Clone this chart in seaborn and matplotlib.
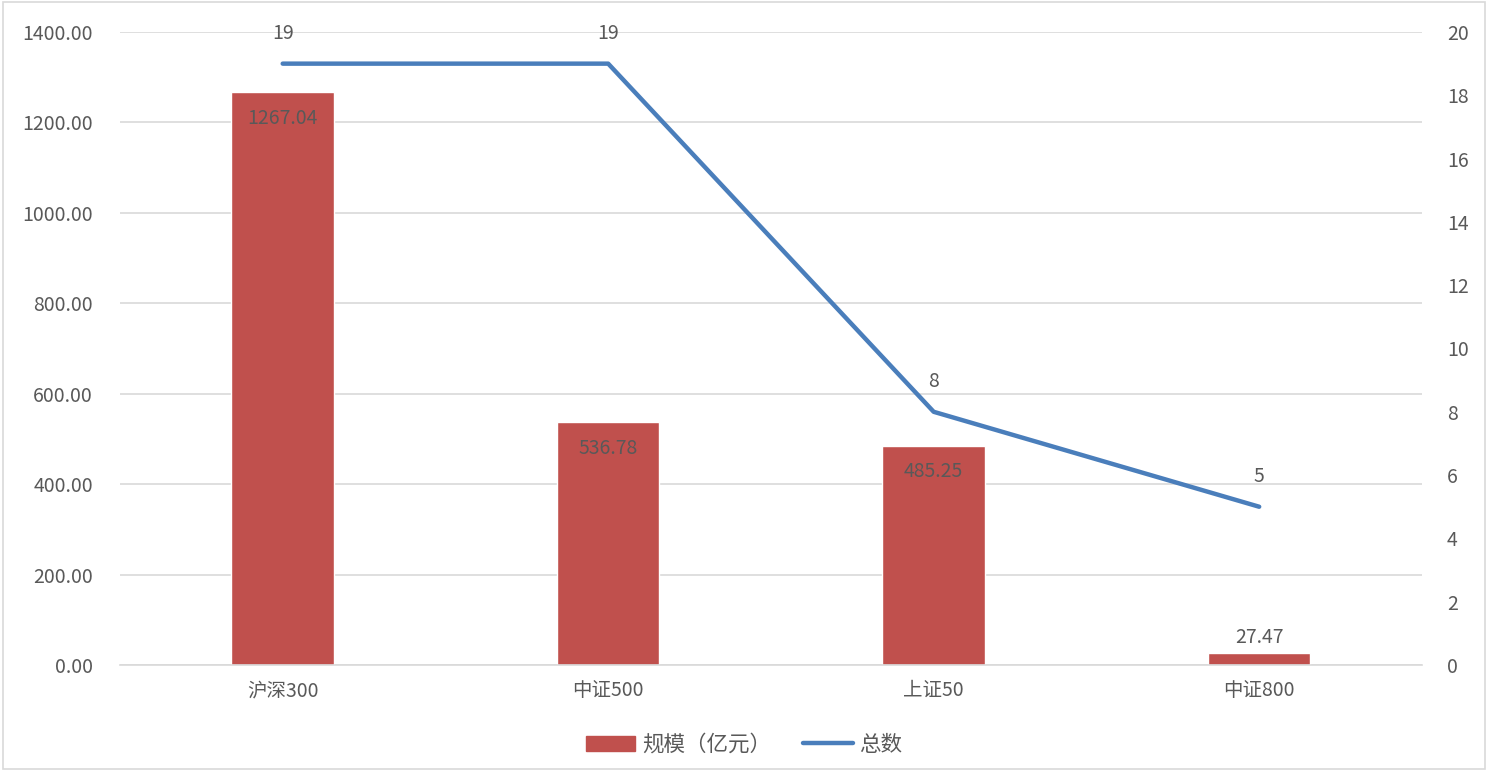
import numpy as np
import pandas as pd
import matplotlib
matplotlib.use("Agg")
import matplotlib.pyplot as plt
import matplotlib.patches as mpatches
import seaborn as sns

categories = ["沪深300", "中证500", "上证50", "中证800"]
scale = [1267.04, 536.78, 485.25, 27.47]
counts = [19, 19, 8, 5]

bar_color = "#c0504d"
line_color = "#4a7ebb"
text_color = "#595959"
grid_color = "#d9d9d9"

sns.set_theme(style="white")
plt.rcParams["font.family"] = ["Noto Sans CJK SC", "DejaVu Sans"]

df = pd.DataFrame({"category": categories, "scale": scale, "count": counts})

fig = plt.figure(figsize=(14.88, 7.71), dpi=100)
ax = fig.add_axes([0.0806, 0.1375, 0.875, 0.821])

sns.barplot(data=df, x="category", y="scale", color=bar_color,
            width=0.315, saturation=1, ax=ax)
ax.set_ylim(0, 1400)
ax.set_yticks(np.arange(0, 1401, 200))
ax.set_yticklabels([f"{v:.2f}" for v in np.arange(0, 1401, 200)])
ax.set_xlim(-0.5, 3.5)
ax.set_xlabel("")
ax.set_ylabel("")
ax.yaxis.grid(True, color=grid_color, linewidth=1.2)
ax.set_axisbelow(True)
for s in ["top", "left", "right"]:
    ax.spines[s].set_visible(False)
ax.spines["bottom"].set_color(grid_color)
ax.spines["bottom"].set_linewidth(1.2)
ax.tick_params(axis="y", length=0, pad=19.5, labelsize=14, labelcolor=text_color)
ax.tick_params(axis="x", length=0, pad=11, labelsize=14, labelcolor=text_color)

# bar labels: inside the top for tall bars, above for small ones
for i, v in enumerate(scale):
    if v > 100:
        ax.annotate(f"{v:.2f}", (i, v), xytext=(0, -19), textcoords="offset points",
                    ha="center", va="center", fontsize=14, color=text_color)
    else:
        ax.annotate(f"{v:.2f}", (i, v), xytext=(0, 11), textcoords="offset points",
                    ha="center", va="center", fontsize=14, color=text_color)

ax2 = ax.twinx()
sns.lineplot(x=np.arange(len(counts)), y=counts, color=line_color,
             linewidth=3.2, ax=ax2)
ax2.set_ylim(0, 20)
ax2.set_yticks(np.arange(0, 21, 2))
ax2.set_xlim(-0.5, 3.5)
for s in ["top", "left", "right", "bottom"]:
    ax2.spines[s].set_visible(False)
ax2.tick_params(axis="y", length=0, pad=18, labelsize=14, labelcolor=text_color)
for i, c in enumerate(counts):
    ax2.annotate(str(c), (i, c), xytext=(0, 22), textcoords="offset points",
                 ha="center", va="center", fontsize=14, color=text_color)

handles = [mpatches.Patch(color=bar_color),
           plt.Line2D([0], [0], color=line_color, linewidth=3.2, solid_capstyle="round")]
fig.legend(handles, ["规模（亿元）", "总数"], loc="center", bbox_to_anchor=(0.5, 0.034),
           ncol=2, frameon=False, fontsize=15.5, labelcolor=text_color,
           handlelength=2.3, columnspacing=1.5, handletextpad=0.3)

fig.patches.append(mpatches.Rectangle((0.002, 0.002), 0.996, 0.996, transform=fig.transFigure,
                                      fill=False, edgecolor=grid_color, linewidth=1.2))

fig.savefig("out.png", dpi=100)
